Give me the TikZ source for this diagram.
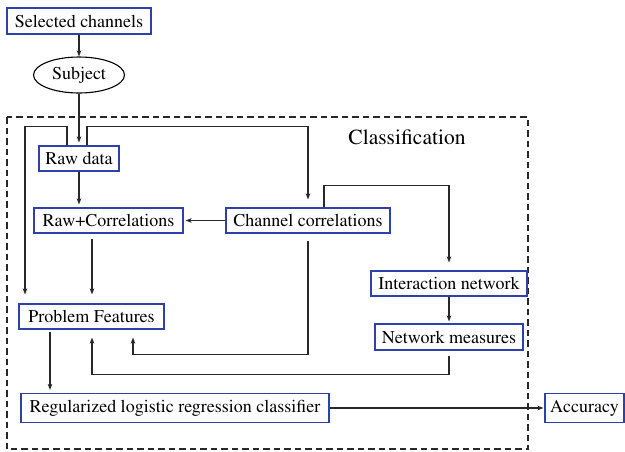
\documentclass[tikz,border=0pt]{standalone}
\usepackage[T1]{fontenc}
\usepackage{mathptmx}
\usetikzlibrary{shapes.geometric,arrows.meta,calc}
\definecolor{boxblue}{RGB}{45,65,170}
\definecolor{linegray}{RGB}{40,40,40}
\tikzset{
  box/.style={draw=boxblue, line width=1.1pt, inner sep=2pt, font=\rmfamily\fontsize{18}{21}\selectfont, text=black},
  ell/.style={ellipse, draw=black, line width=1.1pt, inner sep=1pt, font=\rmfamily\fontsize{18}{21}\selectfont},
  arr/.style={draw=linegray, line width=1.1pt, -{Stealth[length=6pt,width=4.5pt,inset=1.5pt]}},
}
\begin{document}
\begin{tikzpicture}[x=1pt,y=-1pt]
\useasboundingbox (0,0) rectangle (625,451);
% dashed frame
\draw[dash pattern=on 6.5pt off 4pt, line width=1.1pt, linegray] (7,117) rectangle (528,449);
\node[font=\rmfamily\fontsize{21.5}{24}\selectfont] (cls) at (407,137) {Classification};
% nodes
\node[box, minimum width=144pt, minimum height=26pt] (sel) at (79,21) {Selected channels};
\node[ell, minimum width=91pt, minimum height=36pt] (subj) at (79,75) {Subject};
\node[box, minimum width=80pt, minimum height=25pt] (raw) at (79,158.5) {Raw data};
\node[box, minimum width=149pt, minimum height=25pt] (rc) at (108.5,220.5) {Raw+Correlations};
\node[box, minimum width=164pt, minimum height=25pt] (cc) at (308,220.5) {Channel correlations};
\node[box, minimum width=156pt, minimum height=25pt] (in) at (449,283.5) {Interaction network};
\node[box, minimum width=148pt, minimum height=26pt] (nm) at (449,337) {Network measures};
\node[box, minimum width=145pt, minimum height=25pt] (pf) at (91.5,316.5) {Problem Features};
\node[box, minimum width=308pt, minimum height=29pt] (reg) at (175,408) {Regularized logistic regression classifier};
\node[box, minimum width=79pt, minimum height=29pt] (acc) at (584.5,408) {Accuracy};
% connectors
\draw[arr] (sel.south) -- (subj.north);
\draw[arr, shorten >=3pt] (subj.south) -- (raw.north);
\draw[arr] ($(raw.north)+(-12,0)$) -- ++(0,-19) -| ($(pf.north)+(-66.5,-9)$);
\draw[arr] ($(raw.north)+(8,0)$) -- ++(0,-19) -| ($(cc.north)+(0,-8)$);
\draw[arr, shorten >=3pt] (raw.south) -- (raw.south |- rc.north);
\draw[arr, shorten >=2pt] (cc.west) -- (rc.east);
\draw[arr] ($(rc.south)+(-16.5,5)$) -- ($(pf.north)+(0.5,-9)$);
\draw[arr] ($(cc.south)+(0,7)$) |- ($(pf.south)+(41.5,25)$) -- ($(pf.south)+(41.5,8)$);
\draw[arr] ($(cc.north)+(16,0)$) -- ++(0,-22) -| ($(in.north)+(0,-8)$);
\draw[arr, shorten >=2pt] (in.south) -- (nm.north);
\draw[arr] ($(nm.south)+(0,5)$) -- ++(0,19) -| ($(pf.south)+(0.5,8)$);
\draw[arr] ($(pf.south)+(-41.5,2)$) -- ($(reg.north)+(-125,-3)$);
\draw[arr, shorten >=1pt] (reg.east) -- (acc.west);
\end{tikzpicture}
\end{document}
